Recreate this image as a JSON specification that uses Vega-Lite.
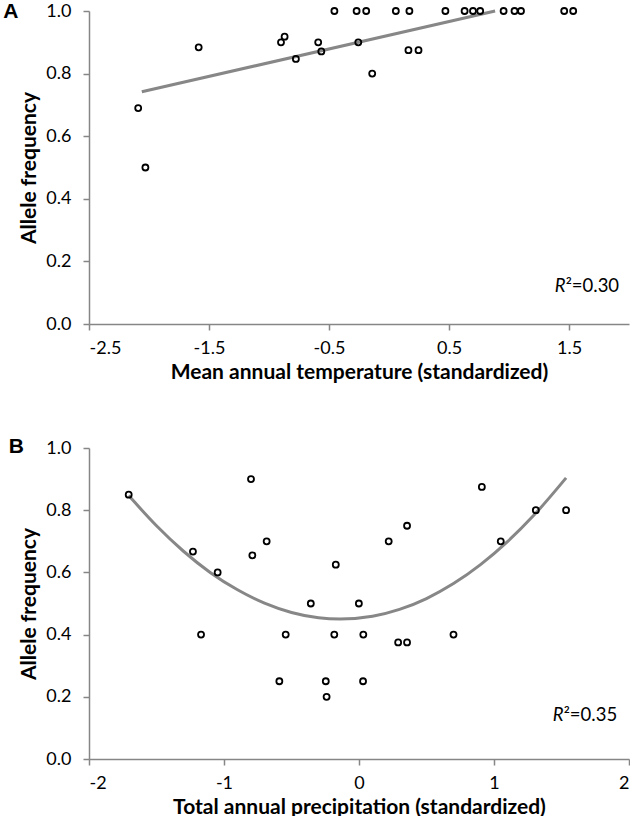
{
  "$schema": "https://vega.github.io/schema/vega-lite/v6.json",
  "padding": {"left": 3, "top": 0, "right": 0, "bottom": 0},
  "background": "white",
  "spacing": 53,
  "datasets": {
    "ptsA": [
      {"x": -2.09, "y": 0.69}, {"x": -2.03, "y": 0.50}, {"x": -1.586, "y": 0.884},
      {"x": -0.90, "y": 0.90}, {"x": -0.87, "y": 0.918}, {"x": -0.776, "y": 0.847},
      {"x": -0.59, "y": 0.90}, {"x": -0.564, "y": 0.871}, {"x": -0.455, "y": 1.0},
      {"x": -0.27, "y": 1.0}, {"x": -0.19, "y": 1.0}, {"x": -0.256, "y": 0.90},
      {"x": -0.14, "y": 0.80}, {"x": 0.057, "y": 1.0}, {"x": 0.17, "y": 1.0},
      {"x": 0.162, "y": 0.875}, {"x": 0.246, "y": 0.875}, {"x": 0.47, "y": 1.0},
      {"x": 0.63, "y": 1.0}, {"x": 0.70, "y": 1.0}, {"x": 0.76, "y": 1.0},
      {"x": 0.955, "y": 1.0}, {"x": 1.046, "y": 1.0}, {"x": 1.10, "y": 1.0},
      {"x": 1.46, "y": 1.0}, {"x": 1.535, "y": 1.0}
    ],
    "fitA": [{"x": -2.06, "y": 0.742}, {"x": 0.884, "y": 1.0}],
    "ptsB": [
      {"x": -1.706, "y": 0.85}, {"x": -0.80, "y": 0.90}, {"x": 0.91, "y": 0.875},
      {"x": 1.31, "y": 0.80}, {"x": 1.534, "y": 0.80}, {"x": 0.356, "y": 0.75},
      {"x": 0.22, "y": 0.70}, {"x": -0.684, "y": 0.70}, {"x": 1.05, "y": 0.70},
      {"x": -1.23, "y": 0.667}, {"x": -1.047, "y": 0.60}, {"x": -0.79, "y": 0.655},
      {"x": -0.172, "y": 0.625}, {"x": -0.357, "y": 0.50}, {"x": -0.001, "y": 0.50},
      {"x": -1.17, "y": 0.40}, {"x": -0.543, "y": 0.40}, {"x": -0.183, "y": 0.40},
      {"x": 0.032, "y": 0.40}, {"x": 0.29, "y": 0.375}, {"x": 0.356, "y": 0.375},
      {"x": 0.70, "y": 0.40}, {"x": -0.59, "y": 0.25}, {"x": -0.246, "y": 0.25},
      {"x": 0.03, "y": 0.25}, {"x": -0.24, "y": 0.20}
    ],
    "fitB": [
      {"x": -1.706, "y": 0.847}, {"x": -1.5, "y": 0.750}, {"x": -1.3, "y": 0.668},
      {"x": -1.1, "y": 0.599}, {"x": -0.9, "y": 0.544}, {"x": -0.7, "y": 0.501},
      {"x": -0.5, "y": 0.471}, {"x": -0.3, "y": 0.454}, {"x": -0.14, "y": 0.450},
      {"x": 0.1, "y": 0.459}, {"x": 0.3, "y": 0.481}, {"x": 0.5, "y": 0.516},
      {"x": 0.7, "y": 0.564}, {"x": 0.9, "y": 0.625}, {"x": 1.1, "y": 0.699},
      {"x": 1.3, "y": 0.786}, {"x": 1.534, "y": 0.904}
    ]
  },
  "vconcat": [
    {
      "width": 540,
      "height": 313,
      "layer": [
        {"data": {"name": "fitA"}, "mark": {"type": "line", "color": "#878787", "strokeWidth": 3},
          "encoding": {
            "x": {"field": "x", "type": "quantitative",
              "scale": {"domain": [-2.5, 2.0], "nice": false, "zero": false},
              "axis": {"values": [-2.5, -1.5, -0.5, 0.5, 1.5], "format": ".1f",
                "labelExpr": "replace(datum.label, '\u2212', '-')",
                "title": "Mean annual temperature (standardized)"}},
            "y": {"field": "y", "type": "quantitative",
              "scale": {"domain": [0, 1], "nice": false},
              "axis": {"values": [0, 0.2, 0.4, 0.6, 0.8, 1.0], "format": ".1f", "title": "Allele frequency"}}
          }},
        {"data": {"name": "ptsA"}, "mark": {"type": "point", "shape": "circle", "filled": false, "color": "black", "size": 36, "strokeWidth": 1.8, "opacity": 1},
          "encoding": {
            "x": {"field": "x", "type": "quantitative", "title": "Mean annual temperature (standardized)"},
            "y": {"field": "y", "type": "quantitative", "title": "Allele frequency"}
          }},
        {"data": {"values": [{"t": "R"}]}, "mark": {"type": "text", "font": "Lato", "fontSize": 18.5, "fontStyle": "italic", "align": "right", "baseline": "middle", "color": "black"},
          "encoding": {"x": {"datum": 1.472}, "y": {"datum": 0.1225}, "text": {"field": "t"}}},
        {"data": {"values": [{"t": "²=0.30"}]}, "mark": {"type": "text", "font": "Lato", "fontSize": 18.5, "align": "left", "baseline": "middle", "color": "black"},
          "encoding": {"x": {"datum": 1.472}, "y": {"datum": 0.1225}, "text": {"field": "t"}}},
        {"data": {"values": [{"t": "A"}]}, "mark": {"type": "text", "font": "Liberation Sans", "fontSize": 21, "fontWeight": "bold", "align": "left", "baseline": "middle", "color": "black"},
          "encoding": {"x": {"datum": -3.214}, "y": {"datum": 0.997}, "text": {"field": "t"}}}
      ]
    },
    {
      "width": 540,
      "height": 311,
      "layer": [
        {"data": {"name": "fitB"}, "mark": {"type": "line", "color": "#878787", "strokeWidth": 3, "interpolate": "monotone"},
          "encoding": {
            "x": {"field": "x", "type": "quantitative",
              "scale": {"domain": [-2, 2], "nice": false, "zero": false},
              "axis": {"values": [-2, -1, 0, 1, 2], "format": "d",
                "labelExpr": "replace(datum.label, '\u2212', '-')",
                "title": "Total annual precipitation (standardized)"}},
            "y": {"field": "y", "type": "quantitative",
              "scale": {"domain": [0, 1], "nice": false},
              "axis": {"values": [0, 0.2, 0.4, 0.6, 0.8, 1.0], "format": ".1f", "title": "Allele frequency"}}
          }},
        {"data": {"name": "ptsB"}, "mark": {"type": "point", "shape": "circle", "filled": false, "color": "black", "size": 36, "strokeWidth": 1.8, "opacity": 1},
          "encoding": {
            "x": {"field": "x", "type": "quantitative", "title": "Total annual precipitation (standardized)"},
            "y": {"field": "y", "type": "quantitative", "title": "Allele frequency"}
          }},
        {"data": {"values": [{"t": "R"}]}, "mark": {"type": "text", "font": "Lato", "fontSize": 18.5, "fontStyle": "italic", "align": "right", "baseline": "middle", "color": "black"},
          "encoding": {"x": {"datum": 1.516}, "y": {"datum": 0.142}, "text": {"field": "t"}}},
        {"data": {"values": [{"t": "²=0.35"}]}, "mark": {"type": "text", "font": "Lato", "fontSize": 18.5, "align": "left", "baseline": "middle", "color": "black"},
          "encoding": {"x": {"datum": 1.516}, "y": {"datum": 0.142}, "text": {"field": "t"}}},
        {"data": {"values": [{"t": "B"}]}, "mark": {"type": "text", "font": "Liberation Sans", "fontSize": 21, "fontWeight": "bold", "align": "left", "baseline": "middle", "color": "black"},
          "encoding": {"x": {"datum": -2.595}, "y": {"datum": 1.004}, "text": {"field": "t"}}}
      ]
    }
  ],
  "config": {
    "view": {"stroke": null},
    "axis": {
      "grid": false,
      "domainColor": "#868686", "domainWidth": 1.5,
      "tickColor": "#868686", "tickWidth": 1.5, "tickSize": 6,
      "labelFont": "Lato", "labelFontSize": 18, "labelColor": "black", "labelPadding": 9,
      "titleFont": "Lato", "titleFontSize": 21, "titleFontWeight": "bold", "titleColor": "black", "titlePadding": 4
    },
    "axisY": {"labelPadding": 12, "titlePadding": 6}
  }
}
